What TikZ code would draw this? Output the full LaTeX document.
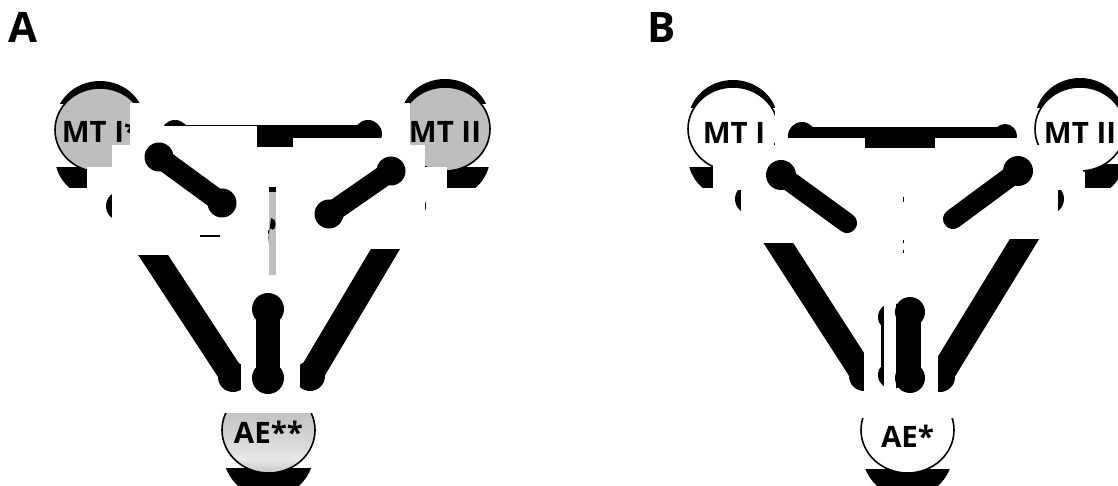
\documentclass[tikz,border=0pt]{standalone}
\usepackage{fontspec}
\setmainfont{Open Sans}
\definecolor{nodegray}{RGB}{190,190,190}
\pgfdeclareverticalshading{aeshade}{100bp}{color(0bp)=(black!20); color(25bp)=(black!20); color(27bp)=(black!19); color(33bp)=(black!9); color(44bp)=(black!16); color(59bp)=(black!23); color(75bp)=(black!24); color(100bp)=(black!24)}
\begin{document}
\begin{tikzpicture}[x=1pt,y=-1pt,
  lbl/.style={font=\fontsize{29.5}{30}\selectfont\bfseries, inner sep=0pt, anchor=base},
  panel/.style={font=\fontsize{42}{42}\selectfont\bfseries, inner sep=0pt, anchor=base west},
  mask/.style={fill=white, draw=none},
  ring/.style={draw=black, line width=1.6pt},
  mtshape/.style={x radius=45pt, y radius=42pt},
]
\useasboundingbox (0,0) rectangle (1118,486);
\fill[white] (0,0) rectangle (1118,486);

% ================= PANEL A =================
\node[panel] (labA) at (8,43) {A};
\coordinate (mt1A) at (100,130);
\coordinate (mt2A) at (445,129);
\coordinate (aeA) at (268.5,430);

\begin{scope}
  \clip (40,60) rectangle (500,103.5);
  \fill (100,123) ellipse[mtshape];
  \fill (445,121) ellipse[mtshape];
\end{scope}
\begin{scope}
  \clip (40,167.5) rectangle (87,188);
  \fill (100,157) ellipse[mtshape];
\end{scope}
\begin{scope}
  \clip (447,167.5) rectangle (500,188);
  \fill (445,157) ellipse[mtshape];
\end{scope}
\filldraw[fill=nodegray, ring] (mt1A) ellipse[mtshape];
\filldraw[fill=nodegray, ring] (mt2A) ellipse[mtshape];
\node[lbl] (t1A) at (101,143) {MT I*};
\node[lbl] (t2A) at (445,143) {MT II};

% long bones
\coordinate (l1a) at (121,206); \coordinate (l1b) at (233,377);
\coordinate (l2a) at (411,206); \coordinate (l2b) at (310,376);
\draw[line width=25pt] (l1a) -- (l1b);
\fill (l1a) circle[radius=15pt] (l1b) circle[radius=15pt];
\draw[line width=25pt] (l2a) -- (l2b);
\fill (l2a) circle[radius=15pt] (l2b) circle[radius=15pt];

% masks
\fill[mask] (130,103) rectangle (410,145);
\fill[mask] (112,145) rectangle (425,167);
\fill[mask] (87,167) rectangle (447,190);
\fill[mask] (112,190) rectangle (270,255);
\fill[mask] (270,190) rectangle (425,249);

% horizontal bone
\coordinate (hA1) at (175,134); \coordinate (hA2) at (368,134);
\draw[line width=18pt] (hA1) -- (hA2);
\fill (hA1) circle[radius=14pt] (hA2) circle[radius=14pt];
\fill[mask] (130,126.3) rectangle (257,150);
\fill[mask] (293,138.5) rectangle (410,150);
\fill (257,125) rectangle (293,147);

% middle bones
\coordinate (mlA1) at (159,157); \coordinate (mlA2) at (222,203);
\coordinate (mrA1) at (391,171); \coordinate (mrA2) at (329,214);
\draw[line width=21pt] (mlA1) -- (mlA2);
\fill (mlA1) circle[radius=14.5pt] (mlA2) circle[radius=14.5pt];
\draw[line width=21pt] (mrA1) -- (mrA2);
\fill (mrA1) circle[radius=14.5pt] (mrA2) circle[radius=14.5pt];

% small remnants
\fill[nodegray] (269,187) rectangle (276,275);
\fill (269,187) rectangle (276,192);
\fill (268,230.5) -- (271,230.5) arc[start angle=-90, end angle=90, x radius=4.5pt, y radius=6.25pt] -- (268,243) -- cycle;
\fill[nodegray] (268,234) -- (270.5,234) arc[start angle=-90, end angle=90, x radius=2pt, y radius=2.75pt] -- (268,239.5) -- cycle;
\draw[line width=1.5pt] (200,236) -- (220,236);

% lower part
\fill[mask] (241,290) rectangle (300,400);
\coordinate (vA1) at (268,309); \coordinate (vA2) at (268,378);
\draw[line width=24pt] (vA1) -- (vA2);
\fill (vA1) circle[radius=16pt] (vA2) circle[radius=16pt];

% AE node
\begin{scope}
  \clip (200,468.5) rectangle (340,490);
  \fill (268.5,450) ellipse[x radius=46pt, y radius=48pt];
\end{scope}
\begin{scope}
  \clip (200,413) rectangle (340,490);
  \shade[shading=aeshade] (aeA) ellipse[x radius=46.5pt, y radius=43pt];
  \draw[ring] (aeA) ellipse[x radius=46.5pt, y radius=43pt];
\end{scope}
\node[lbl] (tAEA) at (268.5,443) {AE**};

% ================= PANEL B =================
\node[panel] (labB) at (647,43) {B};
\coordinate (mt1B) at (733,129);
\coordinate (mt2B) at (1080,129);
\coordinate (aeB) at (907.5,430);

\begin{scope}
  \clip (680,60) rectangle (1118,107.5);
  \fill (733,122) ellipse[mtshape];
  \fill (1080,120) ellipse[mtshape];
\end{scope}
\begin{scope}
  \clip (680,167.5) rectangle (713,188);
  \fill (733,157) ellipse[mtshape];
\end{scope}
\begin{scope}
  \clip (1085,165) rectangle (1130,188);
  \fill (1080,157) ellipse[mtshape];
\end{scope}
\filldraw[fill=white, ring] (mt1B) ellipse[mtshape];
\filldraw[fill=white, ring] (mt2B) ellipse[mtshape];
\node[lbl] (t1B) at (734,144) {MT I};
\node[lbl] (t2B) at (1080,144) {MT II};

% long bones
\coordinate (l1c) at (750,199); \coordinate (l1d) at (864,376);
\coordinate (l2c) at (1049,199); \coordinate (l2d) at (940,377);
\draw[line width=25pt] (l1c) -- (l1d);
\fill (l1c) circle[radius=15pt] (l1d) circle[radius=15pt];
\draw[line width=25pt] (l2c) -- (l2d);
\fill (l2c) circle[radius=15pt] (l2d) circle[radius=15pt];

% masks
\fill[mask] (775,107) rectangle (1031,145);
\fill[mask] (713,145) rectangle (1083,190);
\fill[mask] (741,190) rectangle (903,243);
\fill[mask] (903,190) rectangle (1058,239);

% horizontal bone
\coordinate (hB1) at (802,136); \coordinate (hB2) at (1005,136);
\draw[line width=18pt] (hB1) -- (hB2);
\fill (hB1) circle[radius=14pt] (hB2) circle[radius=12pt];
\fill[mask] (775,138.5) rectangle (1031,152);
\fill (865,137) rectangle (935,148);

% middle bones
\coordinate (mlB1) at (781,175); \coordinate (mlB2) at (847,223);
\coordinate (mrB1) at (1018,171); \coordinate (mrB2) at (953,219);
\draw[line width=20pt, line cap=round] (mlB1) -- (mlB2);
\fill (mlB1) circle[radius=15pt];
\draw[line width=20pt, line cap=round] (mrB1) -- (mrB2);
\fill (mrB1) circle[radius=15pt];

% small remnants
\draw[line width=1pt] (903,197) -- (903,202);
\draw[line width=1pt] (903,240) -- (903,243);
\draw[line width=1pt] (903,250) -- (903,253);

% lower part
\fill[mask] (864,290) rectangle (938,400);
\coordinate (vB1) at (892,317); \coordinate (vB2) at (892,375);
\draw[line width=22pt] (vB1) -- (vB2);
\fill (vB1) circle[radius=14pt] (vB2) circle[radius=14pt];
\fill[mask] (884,290) rectangle (896,400);
\coordinate (vB3) at (910,312); \coordinate (vB4) at (910,378);
\draw[line width=21pt] (vB3) -- (vB4);
\fill (vB3) circle[radius=15pt] (vB4) circle[radius=15pt];

% AE node
\begin{scope}
  \clip (840,469) rectangle (980,490);
  \fill (907.5,450) ellipse[x radius=46pt, y radius=48pt];
\end{scope}
\begin{scope}
  \clip (840,418) rectangle (980,490);
  \filldraw[fill=white, ring] (aeB) ellipse[x radius=46.5pt, y radius=43pt];
\end{scope}
\node[lbl] (tAEB) at (907.5,447) {AE*};
\end{tikzpicture}
\end{document}
